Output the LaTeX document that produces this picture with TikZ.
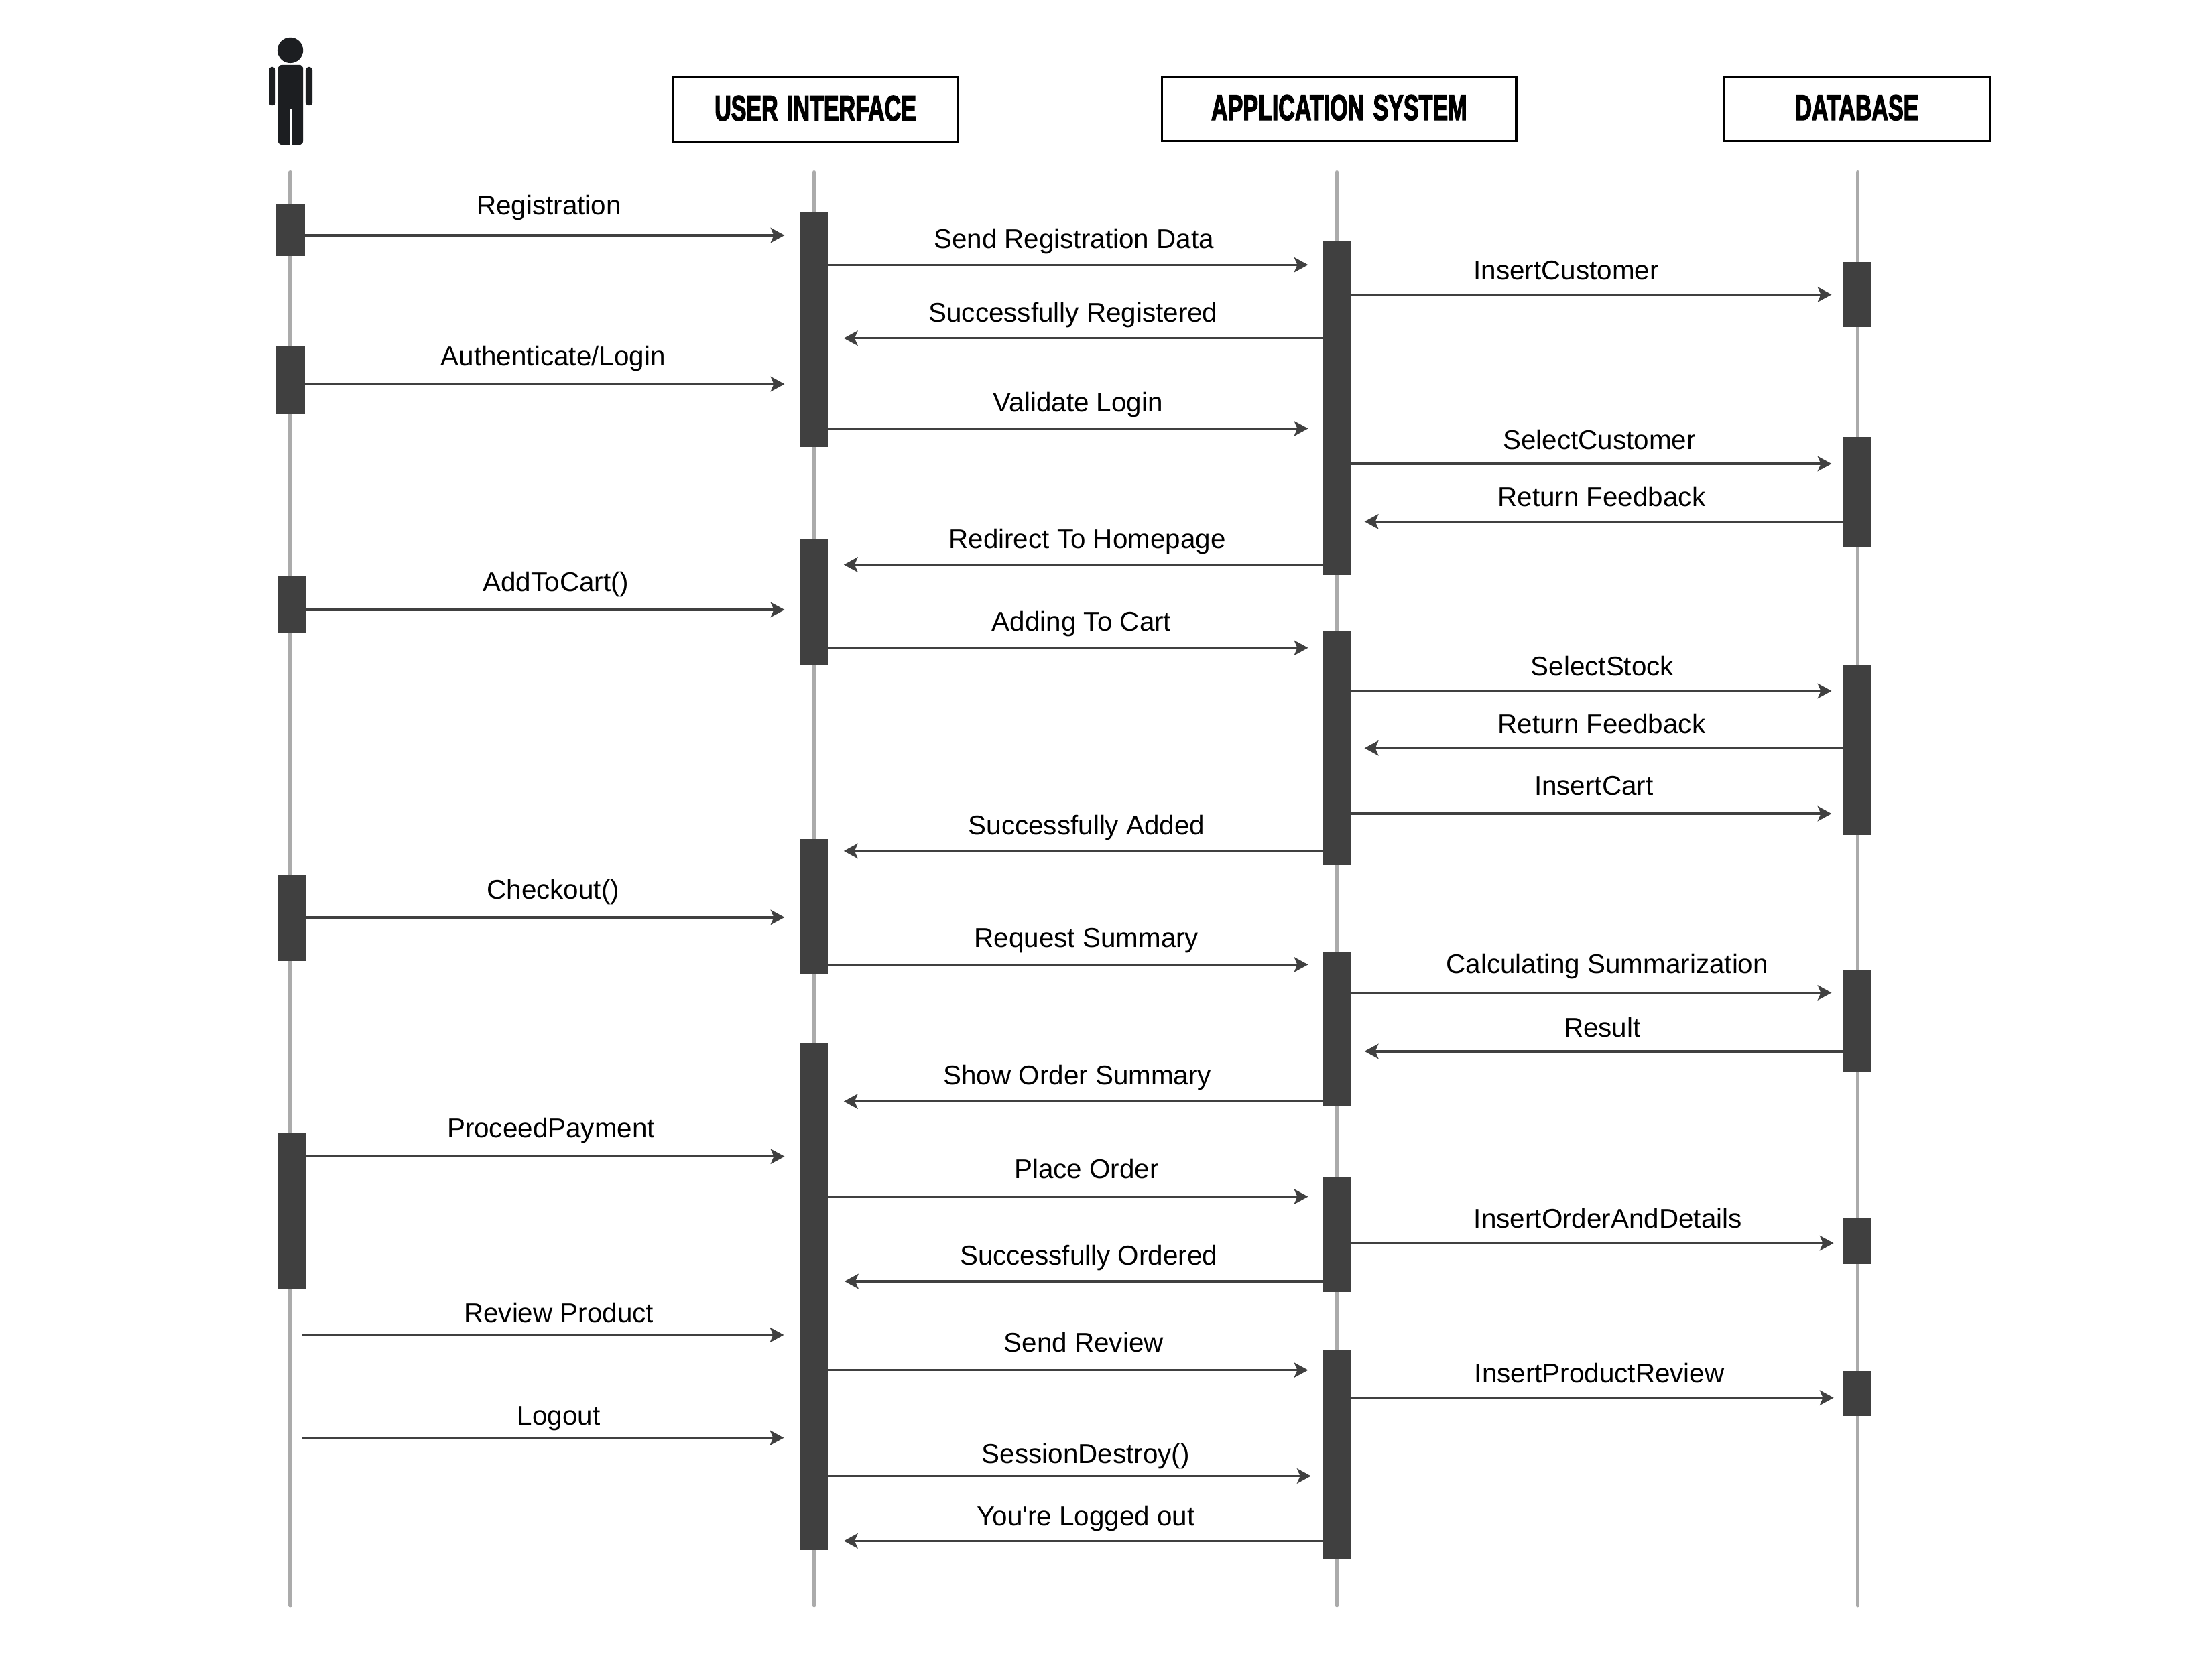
\documentclass[tikz,border=0pt]{standalone}
\usepackage{fontspec}
\setmainfont{Liberation Sans}
\newfontfamily\labelfont{Liberation Sans}
\newfontfamily\headfont[FakeStretch=0.64,FakeBold=2.2,WordSpace=1.4]{Liberation Sans Bold}
\usetikzlibrary{arrows.meta}
\definecolor{lifegray}{HTML}{ABABAB}
\definecolor{actgray}{HTML}{404040}
\definecolor{actorink}{HTML}{1C1E21}
\newlength{\duu}\setlength{\duu}{0.52625pt}
\tikzset{
  x=0.52625pt,y=-0.52625pt,
  headbox/.style={draw=black,line width=0.85pt,fill=white,inner sep=0,outer sep=0,font=\headfont\fontsize{13.3}{15}\selectfont,text=black,text depth=1pt},
  lifeline/.style={draw=lifegray,line width=1.4pt,line cap=round},
  actbox/.style={fill=actgray,draw=none,inner sep=0,outer sep=0,minimum width=20\duu},
  msgline/.style={draw=actgray,line width=0.85pt,-{Stealth[length=5.2pt,width=5.6pt,inset=1.2pt]}},
  msglabel/.style={font=\labelfont\fontsize{10.1}{12}\selectfont,text=black,inner sep=0,text height=7.3pt,text depth=2pt},
  actorpart/.style={fill=actorink,draw=none}
}
% \activation{name}{x}{top}{bottom}
\newcommand{\activation}[4]{%
  \pgfmathsetmacro{\acth}{(#4)-(#3)}%
  \pgfmathsetmacro{\actm}{((#4)+(#3))/2-0.3}%
  \node[actbox,minimum height=\acth\duu] (#1) at (#2,\actm) {};%
}
% \msgright{id}{source node}{tip x}{y}{label}{label x}{label y}
\newcommand{\msgright}[7]{%
  \coordinate (#1tip) at (#3,{#4-0.25});%
  \draw[msgline] (#2.east |- #1tip) -- (#1tip);%
  \node[msglabel] (#1lab) at (#6,{#7+1}) {#5};%
}
\newcommand{\msgleft}[7]{%
  \coordinate (#1tip) at (#3,{#4-0.25});%
  \draw[msgline] (#2.west |- #1tip) -- (#1tip);%
  \node[msglabel] (#1lab) at (#6,{#7+1}) {#5};%
}
% free start
\newcommand{\msgfree}[7]{%
  \coordinate (#1start) at (#2,{#4-0.25});%
  \coordinate (#1tip) at (#3,{#4-0.25});%
  \draw[msgline] (#1start) -- (#1tip);%
  \node[msglabel] (#1lab) at (#6,{#7+1}) {#5};%
}
\begin{document}
\begin{tikzpicture}
\useasboundingbox (0,0) rectangle (1567.6,1187.6);
\fill[white] (0,0) rectangle (1567.6,1187.6);
% headers
\node[headbox,minimum width=202\duu,minimum height=45.5\duu] (ui) at (577.9,77.6) {USER INTERFACE};
\node[headbox,minimum width=251\duu,minimum height=45.5\duu] (as) at (949,77.2) {APPLICATION SYSTEM};
\node[headbox,minimum width=188\duu,minimum height=45.5\duu] (db) at (1316,77.2) {DATABASE};
% actor
\fill[actorpart] (205.7,35.6) ellipse (9.1 and 9.1);
\fill[actorpart,rounded corners=1.5pt] (197,46) rectangle (214.8,102.7);
\fill[white] (205,77.5) rectangle (206.6,103);
\fill[actorpart,rounded corners=1.1pt] (190.5,47.5) rectangle (195.3,74.6);
\fill[actorpart,rounded corners=1.1pt] (216.6,47.5) rectangle (221.4,74.6);
% lifelines
\foreach \n/\x in {la/205.7,lu/577,ls/947.5,ld/1316.5}{
  \coordinate (\n top) at (\x,122);
  \coordinate (\n bot) at (\x,1138);
  \draw[lifeline] (\n top) -- (\n bot);
}
% activations
\activation{a1}{205.9}{145.2}{182}
\activation{a2}{205.9}{246}{294}
\activation{a3}{206.7}{409}{449}
\activation{a4}{206.7}{620}{681.5}
\activation{a5}{206.7}{803}{914}
\activation{u1}{577}{151}{317}
\activation{u2}{577}{382.5}{472}
\activation{u3}{577}{595}{691}
\activation{u4}{577}{740}{1099}
\activation{s1}{947.5}{171}{408}
\activation{s2}{947.5}{448}{613.5}
\activation{s3}{947.5}{675}{784}
\activation{s4}{947.5}{835}{916}
\activation{s5}{947.5}{957}{1105}
\activation{d1}{1316.5}{186}{232}
\activation{d2}{1316.5}{310}{388}
\activation{d3}{1316.5}{472}{592}
\activation{d4}{1316.5}{688}{760}
\activation{d5}{1316.5}{864}{896}
\activation{d6}{1316.5}{972}{1004}
% messages
\msgright{m1}{a1}{556}{167}{Registration}{389}{146}
\msgright{m2}{u1}{927}{188}{Send Registration Data}{761}{170}
\msgright{m3}{s1}{1298}{209}{InsertCustomer}{1110}{192.5}
\msgleft{m4}{s1}{598}{240}{Successfully Registered}{760.5}{222}
\msgright{m5}{a2}{556}{272.5}{Authenticate/Login}{392}{253}
\msgright{m6}{u1}{927}{304}{Validate Login}{764}{286}
\msgright{m7}{s1}{1298}{329}{SelectCustomer}{1133.5}{312.5}
\msgleft{m8}{d2}{967}{370}{Return Feedback}{1135}{353}
\msgleft{m9}{s1}{598}{400.5}{Redirect To Homepage}{770.5}{383}
\msgright{m10}{a3}{556}{432.5}{AddToCart()}{394}{413}
\msgright{m11}{u2}{927}{459.5}{Adding To Cart}{766.5}{441}
\msgright{m12}{s2}{1298}{490}{SelectStock}{1135.5}{473}
\msgleft{m13}{d3}{967}{530.5}{Return Feedback}{1135}{514}
\msgright{m14}{s2}{1298}{577}{InsertCart}{1129.5}{557.5}
\msgleft{m15}{s2}{598}{603.5}{Successfully Added}{770}{585.5}
\msgright{m16}{a4}{556}{650.5}{Checkout()}{392}{631}
\msgright{m17}{u3}{927}{684}{Request Summary}{770}{665.5}
\msgright{m18}{s3}{1298}{704}{Calculating Summarization}{1139}{684}
\msgleft{m19}{d4}{967}{745.5}{Result}{1135.5}{729}
\msgleft{m20}{s3}{598}{781}{Show Order Summary}{763.5}{763}
\msgright{m21}{a5}{556}{820}{ProceedPayment}{390.5}{800.5}
\msgright{m22}{u4}{927}{848.5}{Place Order}{770}{829.5}
\msgright{m23}{s4}{1299.5}{881.5}{InsertOrderAndDetails}{1139.5}{864.5}
\msgleft{m24}{s4}{598.5}{908.5}{Successfully Ordered}{771.5}{890.5}
\msgfree{m25}{214}{555.5}{946.5}{Review Product}{396}{931.5}
\msgright{m26}{u4}{927}{971.5}{Send Review}{768}{952.5}
\msgright{m27}{s5}{1299.5}{991}{InsertProductReview}{1133.5}{974}
\msgfree{m28}{214}{555.5}{1019.5}{Logout}{396}{1004}
\msgright{m29}{u4}{929}{1046.5}{SessionDestroy()}{769.5}{1031}
\msgleft{m30}{s5}{598}{1092.5}{You're Logged out}{769.5}{1075.5}
\end{tikzpicture}
\end{document}
